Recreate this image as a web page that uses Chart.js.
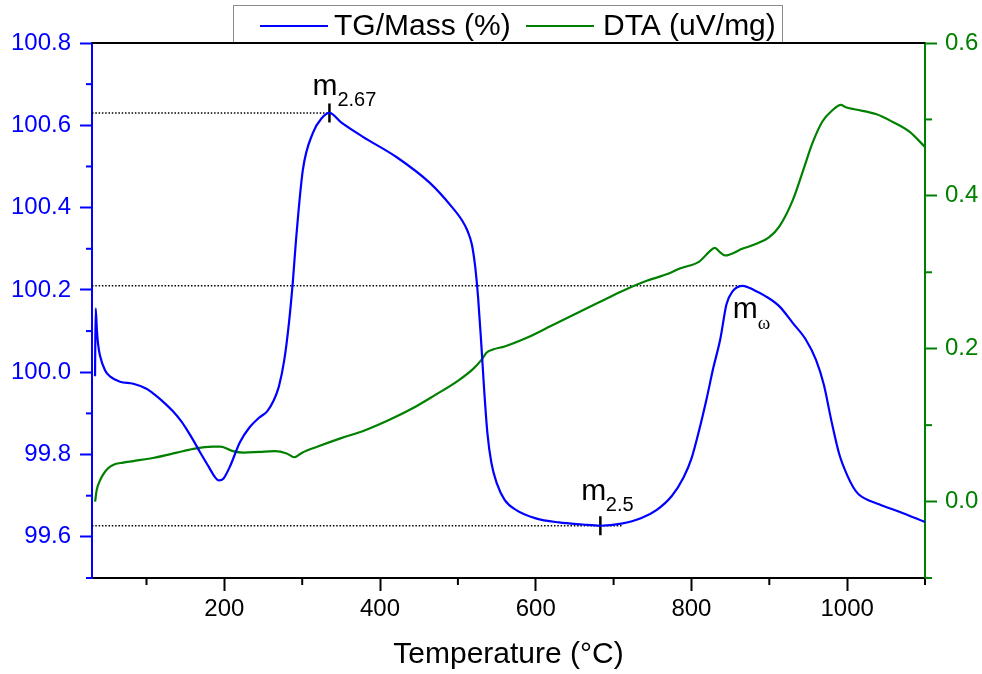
<!DOCTYPE html>
<html>
<head>
<meta charset="utf-8">
<script src="https://cdn.jsdelivr.net/npm/chart.js@4.4.1/dist/chart.umd.min.js"></script>
<style>
  html, body { margin: 0; padding: 0; background: #ffffff; }
  #wrap { width: 982px; height: 674px; position: relative; }
</style>
</head>
<body>
<div id="wrap"><canvas id="c" width="982" height="674"></canvas></div>
<script>
// ---------- data ----------
const tgTemp = [33.9, 34.7, 36.4, 38, 40.3, 46.7, 53.1, 66, 83, 100, 111, 125, 134, 145, 152, 160, 169, 180, 188, 193, 199, 207, 220, 232, 245, 255, 263, 270, 277, 283, 288, 292, 300.8, 313.6, 325, 335, 350, 378, 421, 464, 493, 505, 512, 518, 522, 526, 530, 534, 538, 543, 550, 560, 575, 600, 630, 660, 683, 710, 735, 755, 775, 790, 800, 810, 820, 828, 837, 845, 853, 866, 880, 895, 913, 930, 947, 960, 970, 980, 990, 1000, 1008, 1015, 1041, 1067, 1100];
const tgMass = [99.99, 100.155, 100.10, 100.065, 100.04, 100.005, 99.99, 99.977, 99.972, 99.96, 99.945, 99.922, 99.905, 99.88, 99.86, 99.835, 99.805, 99.77, 99.745, 99.737, 99.742, 99.77, 99.83, 99.865, 99.89, 99.905, 99.93, 99.965, 100.03, 100.12, 100.22, 100.32, 100.491, 100.581, 100.617, 100.63, 100.607, 100.572, 100.523, 100.46, 100.40, 100.37, 100.345, 100.31, 100.26, 100.18, 100.07, 99.95, 99.85, 99.78, 99.73, 99.69, 99.665, 99.645, 99.635, 99.63, 99.627, 99.632, 99.645, 99.665, 99.70, 99.745, 99.79, 99.86, 99.94, 100.01, 100.08, 100.165, 100.197, 100.21, 100.2, 100.185, 100.16, 100.12, 100.079, 100.03, 99.97, 99.88, 99.8, 99.75, 99.72, 99.703, 99.679, 99.661, 99.636];

const dtaTemp = [34, 36, 40, 44, 50, 57, 70, 83, 108, 139, 160, 185, 195, 211, 225, 245, 265, 280, 290, 300, 320, 350, 380, 410, 440, 470, 500, 520, 530, 537, 545, 560, 590, 620, 650, 680, 710, 740, 770, 785, 810, 823, 830, 837, 843, 866, 885, 900, 913, 930, 945, 955, 968, 981, 992, 998, 1011, 1037, 1058, 1080, 1100];
const dtaVal = [0.0, 0.015, 0.027, 0.035, 0.043, 0.048, 0.051, 0.053, 0.057, 0.064, 0.069, 0.072, 0.072, 0.066, 0.064, 0.065, 0.066, 0.063, 0.058, 0.064, 0.072, 0.083, 0.093, 0.106, 0.121, 0.139, 0.158, 0.174, 0.185, 0.195, 0.199, 0.203, 0.215, 0.23, 0.245, 0.26, 0.275, 0.288, 0.298, 0.305, 0.314, 0.327, 0.332, 0.326, 0.322, 0.331, 0.338, 0.346, 0.36, 0.394, 0.438, 0.468, 0.497, 0.512, 0.519, 0.516, 0.513, 0.507, 0.497, 0.484, 0.464];

// reference levels (dotted): start temperature, end temperature, mass level
const refStart = [30, 30, 30];
const refEnd = [335, 711, 866];
const refLevel = [100.63, 99.627, 100.21];

// marked points (short vertical ticks)
const markTemp = [335, 683];
const markMass = [100.63, 99.627];

// annotation labels: main text, subscript, anchor temperature, anchor mass
const annMain = ['m', 'm', 'm'];
const annSub = ['2.67', '2.5', 'ω'];
const annTemp = [335, 683, 866];
const annMass = [100.63, 99.627, 100.21];

const xMajor = [200, 400, 600, 800, 1000];
const xMinor = [100, 300, 500, 700, 900, 1100];
const yMajor = [99.6, 99.8, 100.0, 100.2, 100.4, 100.6, 100.8];
const yMinor = [99.5, 99.7, 99.9, 100.1, 100.3, 100.5, 100.7];
const y2Major = [0.0, 0.2, 0.4, 0.6];
const y2Minor = [-0.1, 0.1, 0.3, 0.5];

const seriesNames = ['TG/Mass (%)', 'DTA (uV/mg)'];
// ---------- end data ----------

const FONT = "'Liberation Sans', Arial, sans-serif";
const BLUE = '#0000ff';
const GREEN = '#008000';

const zip = (xs, ys) => xs.map((x, i) => ({ x: x, y: ys[i] }));

const datasets = [
  { label: seriesNames[0], data: zip(tgTemp, tgMass), yAxisID: 'y', borderColor: BLUE, borderWidth: 2.2, pointRadius: 0, cubicInterpolationMode: 'monotone', fill: false },
  { label: seriesNames[1], data: zip(dtaTemp, dtaVal), yAxisID: 'y2', borderColor: GREEN, borderWidth: 2.2, pointRadius: 0, cubicInterpolationMode: 'monotone', fill: false }
];
refLevel.forEach((lv, i) => {
  datasets.push({ label: 'ref' + i, data: [{ x: refStart[i], y: lv }, { x: refEnd[i], y: lv }], yAxisID: 'y', borderColor: '#000', borderWidth: 1.5, borderDash: [1.5, 1.8], pointRadius: 0, tension: 0, fill: false });
});
datasets.push({ label: 'marks', data: zip(markTemp, markMass), yAxisID: 'y', showLine: false, pointStyle: 'line', rotation: 90, pointRadius: 9.5, pointBorderWidth: 2.5, pointBorderColor: '#000', pointBackgroundColor: '#000', borderColor: '#000' });

const setTicks = (arr) => (scale) => { scale.ticks = arr.map(v => ({ value: v })); };

// label offsets (px) relative to anchor: [mainDx, mainDy, subDx, subDy]
const annOffsets = [[-17, -18, 8, -6.5], [-19, -26, 5.5, -15], [-10, 32, 15, 43]];

const overlayPlugin = {
  id: 'overlay',
  afterDatasetsDraw(chart) {
    const { ctx, scales } = chart;
    ctx.save();
    ctx.fillStyle = '#000';
    ctx.textBaseline = 'alphabetic';
    ctx.textAlign = 'left';
    annMain.forEach((t, i) => {
      const px = scales.x.getPixelForValue(annTemp[i]);
      const py = scales.y.getPixelForValue(annMass[i]);
      const o = annOffsets[i];
      ctx.font = "30px " + FONT;
      ctx.fillText(t, px + o[0], py + o[1]);
      ctx.font = (annSub[i] === 'ω' ? "19px 'Liberation Serif', serif" : "20px " + FONT);
      ctx.fillText(annSub[i], px + o[2], py + o[3]);
    });
    ctx.restore();
  },
  afterDraw(chart) {
    const { ctx, chartArea, scales } = chart;
    ctx.save();
    ctx.lineWidth = 2;
    const seg = (x1, y1, x2, y2) => { ctx.beginPath(); ctx.moveTo(x1, y1); ctx.lineTo(x2, y2); ctx.stroke(); };
    // minor ticks
    ctx.strokeStyle = '#000';
    xMinor.forEach(v => { const p = scales.x.getPixelForValue(v); seg(p, chartArea.bottom, p, chartArea.bottom + 7); });
    ctx.strokeStyle = BLUE;
    yMinor.forEach(v => { const p = scales.y.getPixelForValue(v); seg(chartArea.left, p, chartArea.left - 6, p); });
    ctx.strokeStyle = GREEN;
    y2Minor.forEach(v => { const p = scales.y2.getPixelForValue(v); seg(chartArea.right, p, chartArea.right + 7, p); });

    // legend box
    const bx = 233.5, by = 5.5, bw = 549, bh = chartArea.top - by;
    ctx.fillStyle = '#fff';
    ctx.fillRect(bx, by, bw, bh);
    ctx.strokeStyle = '#8c8c8c';
    ctx.lineWidth = 1;
    ctx.strokeRect(bx, by, bw, bh);
    ctx.font = "30px " + FONT;
    ctx.textBaseline = 'middle';
    ctx.textAlign = 'left';
    const ly = 26;
    const lineStart = [260, 526];
    const textStart = [334, 603];
    [BLUE, GREEN].forEach((c, i) => {
      ctx.strokeStyle = c; ctx.lineWidth = 2;
      seg(lineStart[i], ly, lineStart[i] + 68, ly);
      ctx.fillStyle = '#000';
      ctx.fillText(seriesNames[i], textStart[i], ly + 1);
    });

    // top frame line
    ctx.strokeStyle = '#000'; ctx.lineWidth = 2;
    seg(chartArea.left, chartArea.top, chartArea.right, chartArea.top);
    ctx.restore();
  }
};

new Chart(document.getElementById('c').getContext('2d'), {
  type: 'line',
  data: { datasets: datasets },
  plugins: [overlayPlugin],
  options: {
    responsive: false,
    animation: false,
    devicePixelRatio: 1,
    layout: { padding: { top: 43, left: 0, right: 0, bottom: 0 } },
    plugins: { legend: { display: false }, tooltip: { enabled: false }, title: { display: false } },
    scales: {
      x: {
        type: 'linear', position: 'bottom', min: 30, max: 1100,
        afterBuildTicks: setTicks(xMajor),
        afterFit: (s) => { s.height = 96; },
        grid: { drawOnChartArea: false, drawTicks: true, tickLength: 13, tickWidth: 2, tickColor: '#000' },
        border: { display: true, color: '#000', width: 2 },
        ticks: { color: '#000', font: { size: 24, family: FONT }, padding: 4, maxRotation: 0, autoSkip: false, callback: (v) => String(v) },
        title: { display: true, text: 'Temperature (°C)', color: '#000', font: { size: 30, family: FONT }, padding: { top: 0, bottom: 1.5 } }
      },
      y: {
        type: 'linear', position: 'left', min: 99.5, max: 100.8,
        afterBuildTicks: setTicks(yMajor),
        afterFit: (s) => { s.width = 92; },
        grid: { drawOnChartArea: false, drawTicks: true, tickLength: 12, tickWidth: 2, tickColor: BLUE },
        border: { display: true, color: BLUE, width: 2 },
        ticks: { color: BLUE, font: { size: 24, family: FONT }, padding: 9, autoSkip: false, callback: (v) => Number(v).toFixed(1) }
      },
      y2: {
        type: 'linear', position: 'right', min: -0.1, max: 0.6,
        afterBuildTicks: setTicks(y2Major),
        afterFit: (s) => { s.width = 57; },
        grid: { drawOnChartArea: false, drawTicks: true, tickLength: 12, tickWidth: 2, tickColor: GREEN },
        border: { display: true, color: GREEN, width: 2 },
        ticks: { color: GREEN, font: { size: 24, family: FONT }, padding: 8, autoSkip: false, callback: (v) => Number(v).toFixed(1) }
      }
    }
  }
});
</script>
</body>
</html>
